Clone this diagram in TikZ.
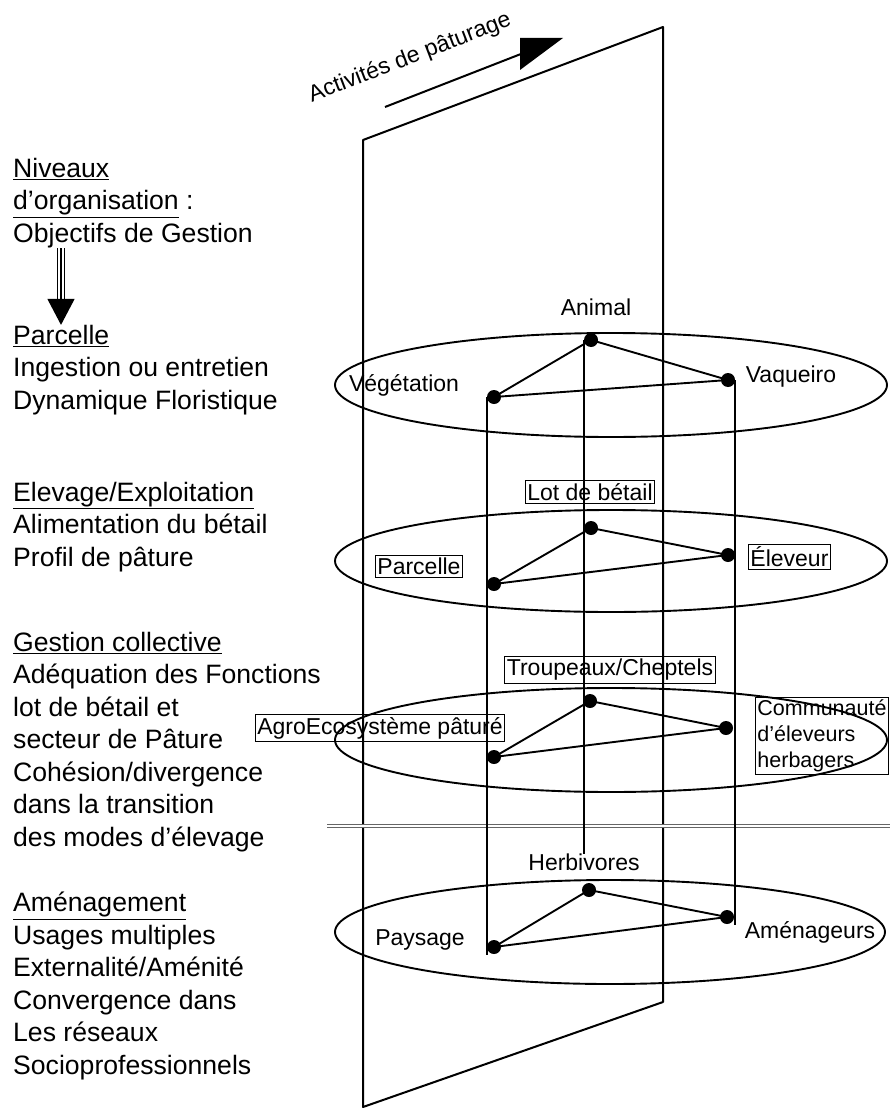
\documentclass[tikz,border=0pt]{standalone}
\usepackage{fontspec}
\setmainfont{Liberation Sans}
\usetikzlibrary{arrows.meta,positioning}

\begin{document}
\begin{tikzpicture}[x=1pt,y=-1pt,
  lab/.style={font=\fontsize{23}{27}\selectfont, inner sep=1pt},
  boxed/.style={lab, draw, line width=0.9pt, inner xsep=2pt, inner ysep=2.5pt},
  niv/.style={font=\fontsize{26.6}{32.5}\selectfont, align=left, anchor=west, inner sep=0pt},
  dot/.style={circle, fill, inner sep=0pt, minimum size=14pt},
  lvl/.style={line width=1.9pt}]
\useasboundingbox (0,0) rectangle (890,1113);

% plan des activites
\draw[line width=2pt, line join=round] (363,140) -- (663,27) -- (663,1002) -- (363,1107) -- cycle; % Plan
\coordinate (actA) at (385,107);
\coordinate (actB) at (526,52);
\draw[line width=2pt] (actA) -- (actB); % Fleche.activites
\fill (520,38) -- (563,38) -- (520,70) -- cycle; % Fleche.activites
\node[lab, rotate=21] (activites) at (410,58) {Activités de pâturage};

% niveaux d'organisation
\node[niv] (nivx) at (13,203) {\underline{Niveaux}\\\underline{d'organisation} :\\Objectifs de Gestion};
\node[niv] (parc) at (13,370) {\underline{Parcelle}\\Ingestion ou entretien\\Dynamique Floristique};
\node[niv] (elev) at (13,527) {\underline{Elevage/Exploitation}\\Alimentation du bétail\\Profil de pâture};
\node[niv] (gest) at (13,742) {\underline{Gestion collective}\\Adéquation des Fonctions\\lot de bétail et\\secteur de Pâture\\Cohésion/divergence\\dans la transition\\des modes d'élevage};
\node[niv] (amen) at (13,986) {\underline{Aménagement}\\Usages multiples\\Externalité/Aménité\\Convergence dans\\Les réseaux\\Socioprofessionnels};
\coordinate (fh) at ([xshift=48pt]nivx.south west);
\coordinate (fb) at ([xshift=48pt]parc.north west);
\draw[line width=1.3pt] ([xshift=-3.4pt]fh) -- ([xshift=-3.4pt,yshift=25pt]fb); % Fleche.niveaux
\draw[line width=1.3pt] ([xshift=3.4pt]fh) -- ([xshift=3.4pt,yshift=25pt]fb); % Fleche.niveaux
\draw[line width=1.3pt, -{Triangle[length=26pt,width=27pt]}] (fh) -- (fb); % Fleche.niveaux

% ellipses des niveaux
\draw[lvl] (611,385) ellipse [x radius=276, y radius=52]; % Niveau.parcelle
\draw[lvl] (611,561) ellipse [x radius=276, y radius=51]; % Niveau.elevage
\draw[lvl] (611,740) ellipse [x radius=276, y radius=52]; % Niveau.collectif
\draw[lvl] (610,932) ellipse [x radius=275, y radius=52]; % Niveau.amenagement
\draw[black!60, line width=1.5pt, double=white, double distance=1.3pt] (327,826) -- (890,826); % Separation

% parcelle
\node[dot] (a1) at (591,340) {};
\node[dot] (g1) at (494,397) {};
\node[dot] (d1) at (728,380) {};
\draw[lvl] (a1.center) -- (g1.center) -- (d1.center) -- (a1.center);
\node[lab] (animal) at (596,307) {Animal};
\node[lab] (vegetation) at (404,385) {Végétation};
\node[lab] (vaqueiro) at (791,377) {Vaqueiro};

% elevage / exploitation
\node[dot] (a2) at (591,528) {};
\node[dot] (g2) at (494,584) {};
\node[dot] (d2) at (728,555) {};
\draw[lvl] (a2.center) -- (g2.center) -- (d2.center) -- (a2.center);
\node[boxed] (lot) at (590,492) {Lot de bétail};
\node[boxed, anchor=west] (parcelle) at (375,566) {Parcelle\hspace{12pt}};
\node[boxed, anchor=west] (eleveur) at (748,557) {Éleveur\hspace{4pt}};

% gestion collective
\node[dot] (a3) at (590,701) {};
\node[dot] (g3) at (494,757) {};
\node[dot] (d3) at (726,728) {};
\draw[lvl] (a3.center) -- (g3.center) -- (d3.center) -- (a3.center);
\node[boxed] (troupeaux) at (610,670) {Troupeaux/Cheptels};
\node[boxed] (agro) at (380,728) {AgroEcosystème pâturé};
\node[boxed, anchor=west, align=left, font=\fontsize{21.5}{26}\selectfont] (communaute) at (755,736) {Communauté\\d'éleveurs\\herbagers};

% amenagement
\node[dot] (a4) at (589,890) {};
\node[dot] (g4) at (494,947) {};
\node[dot] (d4) at (727,917) {};
\draw[lvl] (a4.center) -- (g4.center) -- (d4.center) -- (a4.center);
\node[lab] (herbivores) at (584,862) {Herbivores};
\node[lab] (paysage) at (420,940) {Paysage};
\node[lab] (amenageurs) at (810,932) {Aménageurs};

% liens entre niveaux
\coordinate (cbas) at (584,854);
\coordinate (gbas) at (485,955);
\coordinate (dbas) at (733,925);
\draw[lvl] (a1.west) -- (a1.west |- cbas); % Lien.animal
\draw[lvl] (g1.west) -- (g1.west |- gbas); % Lien.vegetation
\draw[lvl] (d1.east) -- (d1.east |- dbas); % Lien.vaqueiro
\end{tikzpicture}
\end{document}
